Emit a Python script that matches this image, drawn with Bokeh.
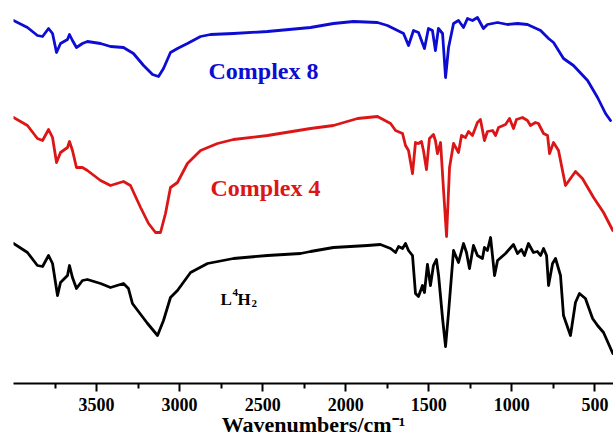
from bokeh.plotting import figure
from bokeh.models import Range1d, FixedTicker, Label
from bokeh.embed import file_html
from bokeh.resources import INLINE

# ---- data (wavenumber / cm^-1, transmittance in arbitrary offset units) ----
wn_c8 = [4000, 3916, 3856, 3825, 3789, 3765, 3741, 3717, 3675, 3663, 3645, 3621, 3585, 3555, 3476,
         3416, 3338, 3278, 3217, 3163, 3127, 3097, 3055, 3013, 2953, 2874, 2814, 2676, 2471, 2212,
         2074, 1953, 1809, 1749, 1688, 1652, 1622, 1592, 1562, 1526, 1502, 1478, 1460, 1442, 1417,
         1399, 1381, 1351, 1321, 1291, 1267, 1237, 1207, 1171, 1147, 1086, 1026, 966, 906, 827,
         779, 749, 689, 629, 544, 484, 436, 406]
t_c8 = [380, 373, 365, 364, 372, 367, 348, 357, 361, 366, 360, 353, 357, 359, 357,
        354, 353, 347, 335, 326, 324, 332, 348, 352, 357, 364, 366, 367, 369, 373,
        377, 379, 378, 375, 370, 367, 355, 370, 368, 352, 372, 370, 350, 372, 367,
        323, 353, 377, 380, 373, 382, 380, 383, 372, 376, 378, 376, 377, 376, 370,
        362, 358, 342, 335, 320, 303, 287, 280]

wn_c4 = [4000, 3916, 3856, 3825, 3789, 3765, 3741, 3717, 3675, 3663, 3645, 3621, 3585, 3555, 3476,
         3416, 3338, 3296, 3235, 3187, 3145, 3115, 3085, 3055, 3013, 2953, 2874, 2772, 2676, 2471, 2212,
         2074, 1929, 1809,
         1730, 1700, 1658, 1640, 1622, 1598, 1580, 1562, 1544, 1532,
         1514, 1496, 1472, 1460, 1448, 1429, 1411, 1393, 1375, 1351,
         1321, 1303, 1279, 1261, 1237, 1207, 1189, 1165, 1147, 1116,
         1098, 1080, 1038, 1014, 990, 972, 936, 906, 888, 858,
         840, 809, 785, 773, 749, 719, 677, 617, 575, 508, 448, 392]
t_c4 = [283, 275, 262, 260, 271, 263, 238, 248, 253, 259, 250, 233, 233, 230, 220,
        215, 219, 215, 193, 177, 168, 168, 187, 213, 218, 237, 250, 257, 261, 265, 272,
        275, 282, 284,
        277, 270, 267, 255, 250, 227, 258, 257, 259, 250,
        231, 262, 266, 260, 247, 258, 210, 164, 233, 257,
        248, 265, 263, 269, 265, 278, 281, 260, 269, 270,
        265, 273, 276, 282, 272, 281, 283, 280, 275, 278,
        277, 267, 265, 247, 258, 250, 215, 229, 222, 203, 188, 170]

wn_l = [4000, 3916, 3856, 3825, 3789, 3765, 3735, 3717, 3675, 3663, 3645, 3621, 3585, 3555, 3476,
        3416, 3338, 3308, 3284, 3266, 3193, 3133, 3097, 3055, 3013, 2934, 2832, 2676, 2471, 2272,
        2212, 2074, 1869, 1791,
        1730, 1700, 1682, 1658, 1640, 1622, 1598, 1580, 1562, 1538,
        1526, 1508, 1490, 1472, 1454, 1441, 1417, 1399, 1381, 1351,
        1321, 1291, 1273, 1255, 1231, 1207, 1177, 1165, 1147, 1128,
        1104, 1086, 1038, 990, 966, 942, 924, 900, 870, 846,
        827, 809, 791, 779, 755, 737, 707, 689, 647, 617,
        593, 557, 514, 484, 448, 392]
t_l = [157, 148, 135, 134, 145, 137, 105, 118, 125, 135, 123, 112, 120, 121, 117,
       113, 117, 112, 97, 93, 77, 65, 80, 103, 110, 128, 137, 142, 145, 147,
       149, 153, 155, 156,
       152, 148, 154, 152, 157, 150, 145, 107, 104, 115,
       108, 136, 115, 135, 141, 125, 82, 54, 88, 150,
       138, 157, 148, 132, 155, 145, 142, 153, 150, 163,
       125, 140, 147, 156, 147, 151, 145, 157, 148, 149,
       145, 152, 145, 115, 137, 142, 125, 85, 65, 98,
       107, 102, 82, 75, 68, 47]

major_ticks = [3500, 3000, 2500, 2000, 1500, 1000, 500]
minor_ticks = [3750, 3250, 2750, 2250, 1750, 1250, 750]

BLUE = "#0c0cd2"
RED = "#dc1616"
BLACK = "#000000"
SERIF = "Liberation Serif"

p = figure(width=613, height=439, output_backend="svg", toolbar_location=None,
           x_range=Range1d(4000, 388), y_range=Range1d(17, 400),
           y_axis_location=None,
           min_border_left=13, min_border_right=0, min_border_top=0, min_border_bottom=56)
p.grid.visible = False
p.outline_line_color = None

for xs, ys, col in ((wn_c8, t_c8, BLUE), (wn_c4, t_c4, RED), (wn_l, t_l, BLACK)):
    p.line(xs, ys, line_color=col, line_width=2.8, line_join="round", line_cap="round")

ax = p.xaxis[0]
ax.ticker = FixedTicker(ticks=major_ticks, minor_ticks=minor_ticks)
ax.axis_line_width = 2
ax.axis_line_color = BLACK
ax.major_tick_line_width = 2
ax.minor_tick_line_width = 2
ax.major_tick_in = 0
ax.major_tick_out = 8
ax.minor_tick_in = 0
ax.minor_tick_out = 5
ax.major_label_standoff = 6
ax.major_label_text_font = SERIF
ax.major_label_text_font_style = "bold"
ax.major_label_text_font_size = "18px"
ax.major_label_text_color = BLACK
ax.axis_label = "Wavenumbers/cm\u207b\u00b9"
ax.axis_label_text_font = SERIF
ax.axis_label_text_font_style = "bold"
ax.axis_label_text_font_size = "22px"
ax.axis_label_text_color = BLACK
ax.axis_label_standoff = -2

def lab(text, x, y, size, color):
    p.add_layout(Label(x=x, y=y, text=text, text_font=SERIF, text_font_style="bold",
                       text_font_size=size, text_color=color, text_align="left",
                       text_baseline="alphabetic"))

lab("Complex 8", 2826, 330, "24px", BLUE)
lab("Complex 4", 2814, 213, "24px", RED)
lab("L", 2754, 101, "17px", BLACK)
lab("4", 2682, 108, "11px", BLACK)
lab("H", 2652, 101, "17px", BLACK)
lab("2", 2567, 97, "11px", BLACK)

open("out.html", "w").write(file_html(p, INLINE))
